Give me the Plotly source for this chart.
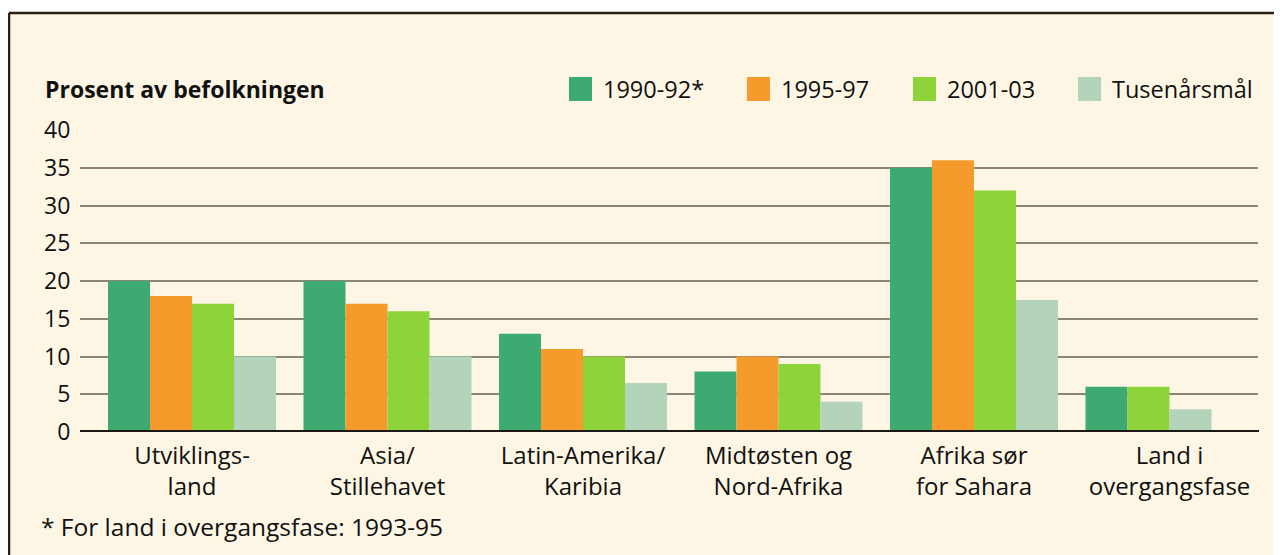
import plotly.graph_objects as go

categories = ["Utviklings-<br>land", "Asia/<br>Stillehavet", "Latin-Amerika/<br>Karibia",
              "Midtøsten og<br>Nord-Afrika", "Afrika sør<br>for Sahara", "Land i<br>overgangsfase"]
series_names = ["1990-92*", "1995-97", "2001-03", "Tusenårsmål"]
v_1990_92 = [20, 20, 13, 8, 35, 6]
v_1995_97 = [18, 17, 11, 10, 36, None]
v_2001_03 = [17, 16, 10, 9, 32, 6]
v_target = [10, 10, 6.5, 4, 17.5, 3]
series_values = [v_1990_92, v_1995_97, v_2001_03, v_target]
colors = ["#3DAA72", "#F59B2B", "#8DD43B", "#B4D3BB"]
y_ticks = [0, 5, 10, 15, 20, 25, 30, 35, 40]

OFF = 8  # browser body margin
W, H = 1282 - 2 * OFF, 555 - OFF
L, R, T, B = 80 - OFF, 1258 - OFF, 130 - OFF, 432 - OFF  # plot area in figure pixels
unit = 195.5
x0_px = 192 - OFF
bw = 42 / unit

def px(x):  # screen x -> paper
    return (x - OFF - L) / (R - L)

def py(y):  # screen y -> paper
    return (B - (y - OFF)) / (B - T)

fig = go.Figure()
n = len(series_values)
positions = {k: [] for k in range(n)}
for g in range(len(categories)):
    present = [k for k in range(n) if series_values[k][g] is not None]
    for slot, k in enumerate(present):
        positions[k].append((g + (slot - (n - 1) / 2) * bw, series_values[k][g]))

for k in range(n):
    xs = [p[0] for p in positions[k]]
    ys = [p[1] for p in positions[k]]
    fig.add_trace(go.Bar(x=xs, y=ys, width=bw, marker=dict(color=colors[k], line=dict(width=0)),
                         name=series_names[k], showlegend=False))

xr = [(L - x0_px) / unit, (R - x0_px) / unit]

shapes = []
shapes.append(dict(type="rect", xref="paper", yref="paper", x0=px(10), x1=px(1273), y0=py(600), y1=py(14),
                   fillcolor="#FDF6E4", line=dict(width=0), layer="below"))
shapes.append(dict(type="line", xref="paper", yref="paper", x0=px(9), x1=px(1290), y0=py(13), y1=py(13),
                   line=dict(color="#2a2016", width=2.5)))
shapes.append(dict(type="line", xref="paper", yref="paper", x0=px(9), x1=px(9), y0=py(13), y1=py(600),
                   line=dict(color="#2a2016", width=2.5)))
shapes.append(dict(type="line", xref="paper", yref="y", x0=0, x1=px(1259), y0=0, y1=0,
                   line=dict(color="#1c1813", width=4)))

annotations = []
annotations.append(dict(text="<b>Prosent av befolkningen</b>", xref="paper", yref="paper",
                        x=px(43), y=py(89), xanchor="left", yanchor="middle", showarrow=False,
                        font=dict(family="Open Sans", size=23, color="#111")))
annotations.append(dict(text="* For land i overgangsfase: 1993-95", xref="paper", yref="paper",
                        x=px(39), y=py(526), xanchor="left", yanchor="middle", showarrow=False,
                        font=dict(family="Open Sans", size=24.5, color="#111")))

leg_left = [569, 747, 913, 1078]
for k in range(n):
    shapes.append(dict(type="rect", xref="paper", yref="paper", x0=px(leg_left[k]), x1=px(leg_left[k] + 23),
                       y0=py(101), y1=py(77), fillcolor=colors[k], line=dict(width=0)))
    annotations.append(dict(text=series_names[k], xref="paper", yref="paper",
                            x=px(leg_left[k] + 32), y=py(89), xanchor="left", yanchor="middle",
                            showarrow=False, font=dict(family="Open Sans", size=23.5, color="#111")))

fig.update_layout(
    width=W, height=H,
    margin=dict(l=L, r=W - R, t=T, b=H - B, pad=0),
    paper_bgcolor="white", plot_bgcolor="rgba(0,0,0,0)",
    barmode="overlay", showlegend=False,
    shapes=shapes, annotations=annotations,
    xaxis=dict(range=xr, tickmode="array", tickvals=list(range(len(categories))), ticktext=categories,
               showgrid=False, zeroline=False, showline=False, ticks="outside", ticklen=2,
               tickcolor="rgba(0,0,0,0)",
               tickfont=dict(family="Open Sans", size=24, color="#111")),
    yaxis=dict(range=[0, 40], tickmode="array", tickvals=y_ticks, showgrid=True, gridcolor="#8a8577",
               gridwidth=2, zeroline=False, showline=False, ticks="outside", ticklen=4,
               tickcolor="rgba(0,0,0,0)",
               tickfont=dict(family="Open Sans", size=23, color="#111")),
)

fig.write_html("out.html", post_script="document.body.style.overflow='hidden';")
